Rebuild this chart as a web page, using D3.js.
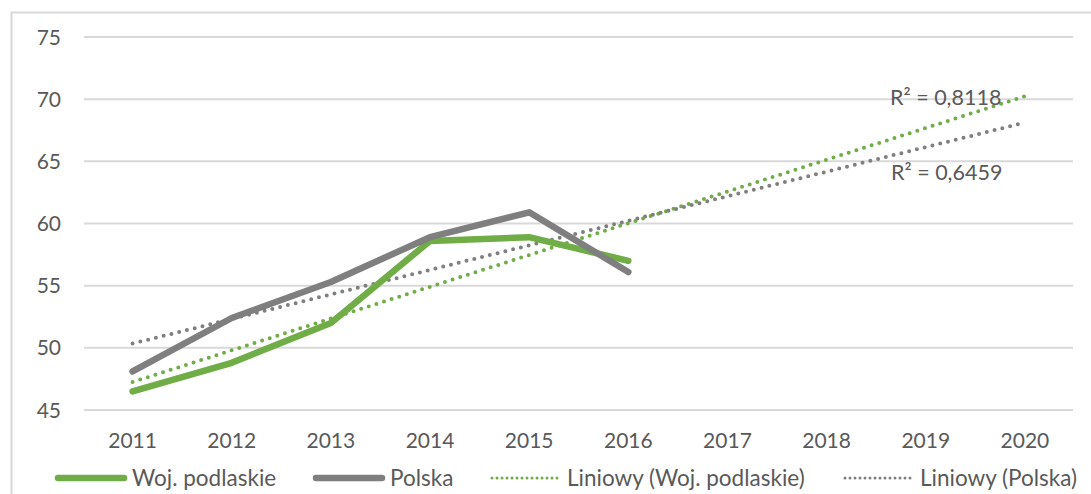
<!DOCTYPE html>
<html>
<head>
  <meta charset="utf-8">
<style>
  body { margin: 0; background: #fff; }
  svg text { font-family: Lato, "Open Sans", sans-serif; fill: #595959; }
  .grid line { stroke: #d9d9d9; stroke-width: 2px; }
  .axis text { font-size: 21px; }
  .legend text { font-size: 22.5px; }
  .r2 { font-size: 21.5px; }
</style>
</head>
<body>
<svg width="1091" height="494"></svg>
<script src="https://d3js.org/d3.v7.min.js"></script>
<script>

// data
var years = ["2011", "2012", "2013", "2014", "2015", "2016", "2017", "2018", "2019", "2020"];
var podlaskie = [46.5, 48.8, 52.0, 58.6, 58.9, 57.0];
var polska = [48.1, 52.4, 55.3, 58.9, 60.9, 56.1];
var yTicks = [45, 50, 55, 60, 65, 70, 75];
var r2Labels = ["R\u00b2 = 0,8118", "R\u00b2 = 0,6459"];

var green = "#70ad47", grey = "#7f7f7f";

var svg = d3.select("svg");

// chart border
svg.append("rect")
    .attr("x", 11.5).attr("y", 12.5)
    .attr("width", 1100).attr("height", 500)
    .attr("fill", "none")
    .attr("stroke", "#d9d9d9")
    .attr("stroke-width", 2);

var x = d3.scaleBand()
    .domain(years)
    .range([83, 1074.5]);
var y = d3.scaleLinear()
    .domain([45, 75])
    .range([410, 37]);

function cx(d) { return x(d) + x.bandwidth() / 2; }

// gridlines
svg.append("g")
    .attr("class", "grid")
    .selectAll("line")
    .data(yTicks)
    .enter().append("line")
      .attr("x1", 84).attr("x2", 1073)
      .attr("y1", function (d) { return y(d); })
      .attr("y2", function (d) { return y(d); });

// y axis labels
svg.append("g")
    .attr("class", "axis")
    .selectAll("text")
    .data(yTicks)
    .enter().append("text")
      .attr("x", 61)
      .attr("y", function (d) { return y(d); })
      .attr("dy", "0.36em")
      .attr("text-anchor", "end")
      .text(function (d) { return d; });

// x axis labels
svg.append("g")
    .attr("class", "axis")
    .selectAll("text")
    .data(years)
    .enter().append("text")
      .attr("x", cx)
      .attr("y", 448)
      .attr("text-anchor", "middle")
      .text(function (d) { return d; });

// linear trend (least squares, like Excel "Liniowy")
function trend(vals) {
  var n = vals.length, xs = d3.range(1, n + 1);
  var mx = d3.mean(xs), my = d3.mean(vals);
  var sxy = d3.sum(xs, function (v, i) { return (v - mx) * (vals[i] - my); });
  var sxx = d3.sum(xs, function (v) { return (v - mx) * (v - mx); });
  var b = sxy / sxx, a = my - b * mx;
  return [[years[0], a + b], [years[years.length - 1], a + b * years.length]];
}

var line = d3.line()
    .x(function (d) { return cx(d[0]); })
    .y(function (d) { return y(d[1]); });

function drawTrend(vals, color) {
  svg.append("path")
      .attr("d", line(trend(vals)))
      .attr("fill", "none")
      .attr("stroke", color)
      .attr("stroke-width", 4)
      .attr("stroke-linecap", "round")
      .attr("stroke-dasharray", "0 8");
}

function drawSeries(vals, color) {
  svg.append("path")
      .attr("d", line(vals.map(function (v, i) { return [years[i], v]; })))
      .attr("fill", "none")
      .attr("stroke", color)
      .attr("stroke-width", 6.5)
      .attr("stroke-linecap", "round")
      .attr("stroke-linejoin", "round");
}

drawTrend(podlaskie, green);
drawTrend(polska, grey);
drawSeries(podlaskie, green);
drawSeries(polska, grey);

// R² labels
svg.append("text").attr("class", "r2")
    .attr("x", 890).attr("y", 105)
    .text(r2Labels[0]);
svg.append("text").attr("class", "r2")
    .attr("x", 891).attr("y", 180)
    .text(r2Labels[1]);

// legend
var legendItems = [
  { label: "Woj. podlaskie", color: green, dotted: false, x: 55 },
  { label: "Polska", color: grey, dotted: false, x: 313 },
  { label: "Liniowy (Woj. podlaskie)", color: green, dotted: true, x: 490 },
  { label: "Liniowy (Polska)", color: grey, dotted: true, x: 843 }
];

var lg = svg.append("g")
    .attr("class", "legend")
    .attr("transform", "translate(0,478)");
var item = lg.selectAll("g")
    .data(legendItems)
    .enter().append("g")
      .attr("transform", function (d) { return "translate(" + d.x + ",0)"; });
item.append("line")
    .attr("x1", function (d) { return d.dotted ? 2 : 3; })
    .attr("x2", function (d) { return d.dotted ? 70 : 69; })
    .attr("stroke", function (d) { return d.color; })
    .attr("stroke-width", function (d) { return d.dotted ? 3 : 6.5; })
    .attr("stroke-linecap", "round")
    .attr("stroke-dasharray", function (d) { return d.dotted ? "0 5" : null; });
item.append("text")
    .attr("x", 77)
    .attr("dy", "0.36em")
    .text(function (d) { return d.label; });

</script>
</body>
</html>
